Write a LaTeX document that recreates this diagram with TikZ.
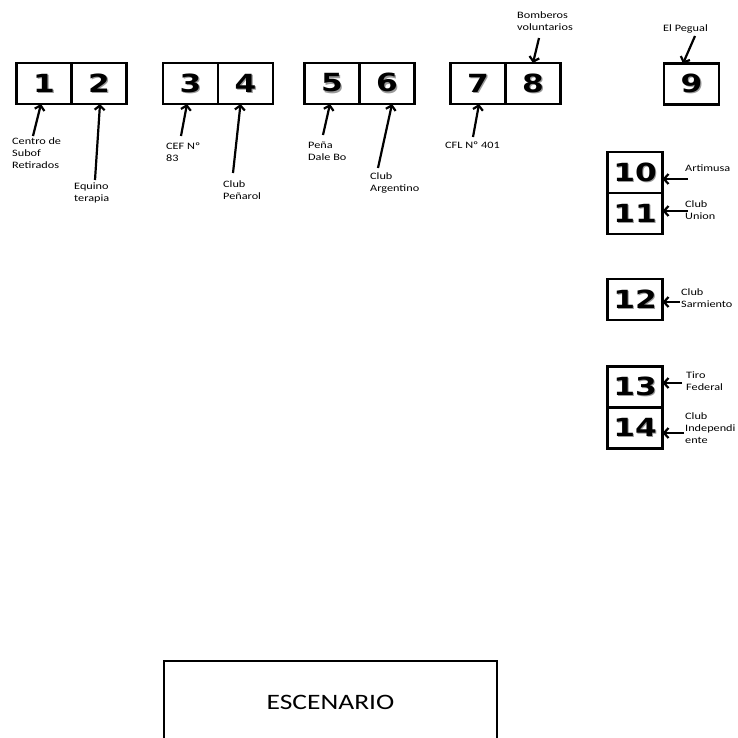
\documentclass[tikz,border=0pt]{standalone}
\usepackage{fontspec}
\setmainfont{Carlito}[FakeStretch=1.25]
\newfontfamily\numfont{DejaVu Sans}[FakeStretch=1.25]
\usetikzlibrary{arrows.meta,positioning}
\newcommand\stallnum[1]{\rlap{\textcolor{black!40}{\kern1.2pt\raisebox{-1.2pt}{#1}}}#1}
\tikzset{
    stall/.style={draw, line width=2.4pt, minimum width=55pt, minimum height=41pt, inner sep=0pt, outer sep=0pt, font=\numfont\bfseries\fontsize{25}{25}\selectfont},
    tag/.style={anchor=north west, inner sep=0pt, align=left, font=\fontsize{9.8}{12}\selectfont},
    pointer/.style={line width=2.2pt, -{Straight Barb[length=4.5pt,width=10pt]}},
    stage/.style={draw, line width=2.6pt, minimum width=333pt, minimum height=82pt, inner sep=0pt, font=\fontsize{22}{26}\selectfont}
}
\begin{document}
\begin{tikzpicture}[x=1pt, y=-1pt]
    \useasboundingbox (0,0) rectangle (738,737);
    \clip (0,0) rectangle (738,737);

    \node[stall] (b1) at (44,83.5) {\stallnum{1}};
    \node[stall, right=0pt of b1] (b2) {\stallnum{2}};
    \node[stall] (b3) at (190.5,83.5) {\stallnum{3}};
    \node[stall, right=0pt of b3] (b4) {\stallnum{4}};
    \node[stall] (b5) at (332,83.5) {\stallnum{5}};
    \node[stall, right=0pt of b5] (b6) {\stallnum{6}};
    \node[stall] (b7) at (478,83.5) {\stallnum{7}};
    \node[stall, right=0pt of b7] (b8) {\stallnum{8}};
    \node[stall] (b9) at (691.5,84) {\stallnum{9}};
    \node[stall] (b10) at (635,172.5) {\stallnum{10}};
    \node[stall, below=0pt of b10] (b11) {\stallnum{11}};
    \node[stall] (b12) at (635,299.5) {\stallnum{12}};
    \node[stall] (b13) at (635,387) {\stallnum{13}};
    \node[stall, below=0pt of b13] (b14) {\stallnum{14}};

    \node[tag] (l1) at (12,137) {Centro de\\Subof\\Retirados};
    \node[tag] (l2) at (74,183) {Equino\\terapia};
    \node[tag] (l3) at (166,143) {CEF Nº\\83};
    \node[tag] (l4) at (223,180) {Club\\Peñarol};
    \node[tag] (l5) at (308,142) {Peña\\Dale Bo};
    \node[tag] (l6) at (370,172) {Club\\Argentino};
    \node[tag] (l7) at (445,142) {CFL Nº 401};
    \node[tag] (l8) at (517,11) {Bomberos\\voluntarios};
    \node[tag] (l9) at (663,24) {El Pegual};
    \node[tag] (l10) at (685,165) {Artimusa};
    \node[tag] (l11) at (685,200) {Club\\Union};
    \node[tag] (l12) at (681,288) {Club\\Sarmiento};
    \node[tag] (l13) at (686,372) {Tiro\\Federal};
    \node[tag] (l14) at (685,412) {Club\\Independi\\ente};

    \coordinate (t1) at (33,136);
    \coordinate (t2) at (95,180);
    \coordinate (t3) at (181,136);
    \coordinate (t4) at (233,173);
    \coordinate (t5) at (323,135);
    \coordinate (t6) at (378,168);
    \coordinate (t7) at (473,137);
    \coordinate (t8) at (539,38);
    \coordinate (t9) at (695,36);
    \coordinate (t10) at (688,179);
    \coordinate (t11) at (688,211);
    \coordinate (t12) at (680,302);
    \coordinate (t13) at (682,383);
    \coordinate (t14) at (684,433);

    \draw[pointer] (t1) -- ([xshift=-3pt]b1.south);
    \draw[pointer] (t2) -- ([xshift=1pt]b2.south);
    \draw[pointer] (t3) -- ([xshift=-3.5pt]b3.south);
    \draw[pointer] (t4) -- ([xshift=-5pt]b4.south);
    \draw[pointer] (t5) -- ([xshift=-2pt]b5.south);
    \draw[pointer] (t6) -- ([xshift=5pt]b6.south);
    \draw[pointer] (t7) -- ([xshift=1pt]b7.south);
    \draw[pointer] (t8) -- (b8.north);
    \draw[pointer] (t9) -- ([xshift=-8.5pt]b9.north);
    \draw[pointer] (t10) -- ([yshift=-6.5pt]b10.east);
    \draw[pointer] (t11) -- ([yshift=2.5pt]b11.east);
    \draw[pointer] (t12) -- ([yshift=-2.5pt]b12.east);
    \draw[pointer] (t13) -- ([yshift=4pt]b13.east);
    \draw[pointer] (t14) -- ([yshift=-5pt]b14.east);

    \node[stage] (scene) at (330.5,702) {ESCENARIO};
\end{tikzpicture}
\end{document}
